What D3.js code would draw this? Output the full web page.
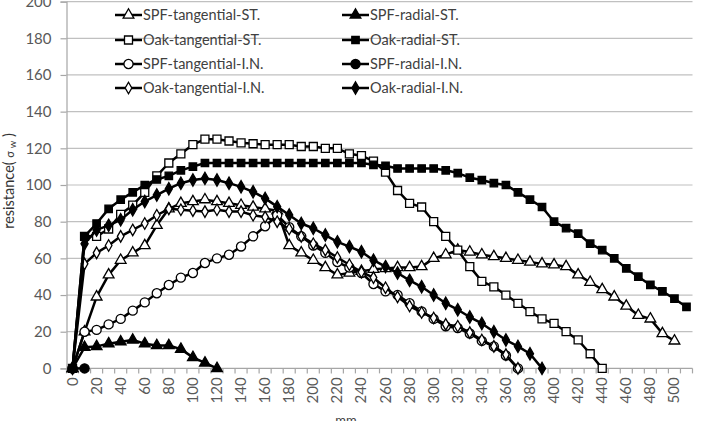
<!DOCTYPE html>
<html><head><meta charset="utf-8">
<script src="https://cdn.jsdelivr.net/npm/d3@7/dist/d3.min.js"></script>
<style>body{margin:0;background:#fff}svg{display:block}</style>
</head><body><svg id="c" width="702" height="421"></svg>
<script>
const categories = [0,10,20,30,40,50,60,70,80,90,100,110,120,130,140,150,160,170,180,190,200,210,220,230,240,250,260,270,280,290,300,310,320,330,340,350,360,370,380,390,400,410,420,430,440,450,460,470,480,490,500,510];
const xTickLabels = [0,20,40,60,80,100,120,140,160,180,200,220,240,260,280,300,320,340,360,380,400,420,440,460,480,500];
const yTicks = [0,20,40,60,80,100,120,140,160,180,200];
const seriesNames = ["SPF-tangential-ST.","SPF-radial-ST.","Oak-tangential-ST.","Oak-radial-ST.","SPF-tangential-I.N.","SPF-radial-I.N.","Oak-tangential-I.N.","Oak-radial-I.N."];
const N = null;
const spfTanST = [0,20,39,51,59,63,67,78,87,90,91,92,91,90,89,88,87,86,67,63,59,55,51,52,53,54,54.5,55,55,55.5,60,62,64.5,63.5,62,61,60,59,58,57,56.5,55.5,51,47,43,39,34,29,27,19,15,N];
const spfRadST = [0,11.5,12,13.5,14.5,15.5,13.5,12.5,12.5,10.5,6,3,0,N,N,N,N,N,N,N,N,N,N,N,N,N,N,N,N,N,N,N,N,N,N,N,N,N,N,N,N,N,N,N,N,N,N,N,N,N,N,N];
const oakTanST = [0,72,72,76,84,89,96,105,112,117,122,125,125,124,123,122.5,122,122,122,121,121,120,120,117,116,113,107,97,90,88,80,72,64.5,55.5,47.5,44.5,40,35.5,31,27,24.5,20,15.5,8,0,N,N,N,N,N,N,N];
const oakRadST = [0,72,79,87,92,96,100,103,105,108,110,112,112,112,112,112,112,112,112,112,112,112,112,112,112,111,110.5,109,109,109,109,108,106.5,104,102.7,101,100,96,92,88,80,76.5,73.5,68,64.5,60,54.5,50,45.5,42,38,33.5];
const spfTanIN = [0,20,21,24,27,31.5,36,41,45.5,49.5,52,57.5,60,62,66.5,72,77.5,83.5,77,72,67,63,58,55,52,46,42,40,35.5,31,27,23,22,19,15,12,7,0,N,N,N,N,N,N,N,N,N,N,N,N,N,N];
const spfRadIN = [0,0,N,N,N,N,N,N,N,N,N,N,N,N,N,N,N,N,N,N,N,N,N,N,N,N,N,N,N,N,N,N,N,N,N,N,N,N,N,N,N,N,N,N,N,N,N,N,N,N,N,N];
const oakTanIN = [0,57,63,67,72,75.5,79,83.5,87,86.5,86,85.5,86.5,85.5,85.5,83.5,82.5,80,76,72,68,64.5,60.5,56.5,52.5,49.5,44,39,34,30.5,27.5,24,23,19.5,15.5,12,7.5,0,N,N,N,N,N,N,N,N,N,N,N,N,N,N];
const oakRadIN = [0,68,75.5,78,81,86.5,91,94.5,98,101,102.7,103.6,102.7,101,99,96.3,92.7,88.2,83.6,79,76.4,72.7,69,66.4,63.6,59,55.5,52,48,44.5,40,35.5,32,28,24.5,20,15.5,12,8,0,N,N,N,N,N,N,N,N,N,N,N,N];

const seriesData = [spfTanST, spfRadST, oakTanST, oakRadST, spfTanIN, spfRadIN, oakTanIN, oakRadIN];
const markerStyle = [
  {sym:d3.symbolTriangle, size:50, fill:"#fff"},
  {sym:d3.symbolTriangle, size:50, fill:"#000"},
  {sym:d3.symbolSquare, size:64, fill:"#fff"},
  {sym:d3.symbolSquare, size:55, fill:"#000"},
  {sym:d3.symbolCircle, size:66, fill:"#fff"},
  {sym:d3.symbolCircle, size:66, fill:"#000"},
  {sym:d3.symbolDiamond, size:38, fill:"#fff"},
  {sym:d3.symbolDiamond, size:44, fill:"#000"}
];

const svg = d3.select("#c");
const x = d3.scalePoint().domain(categories).range([66.5, 692.5]).padding(0.5);
const step = x.step();
const y = d3.scaleLinear().domain([0,200]).range([368.4, 1.6]);
const FONT = "Lato, 'Liberation Sans', sans-serif";

// gridlines
svg.append("g").selectAll("line").data(yTicks.filter(d=>d>0)).join("line")
  .attr("x1",66.5).attr("x2",692.5).attr("y1",d=>y(d)).attr("y2",d=>y(d))
  .attr("stroke","#c0c0c0").attr("stroke-width",1.2);

// y axis
const yAxis = svg.append("g").attr("transform","translate(66.5,0)")
  .call(d3.axisLeft(y).tickValues(yTicks).tickSize(6).tickPadding(9));
yAxis.select(".domain").attr("stroke","#a6a6a6").attr("stroke-width",1.2);
yAxis.selectAll(".tick line").attr("stroke","#a6a6a6").attr("stroke-width",1.2);
yAxis.selectAll("text").attr("font-family",FONT).attr("font-size",15).attr("fill","#595959");

// x axis
const xg = svg.append("g");
xg.append("line").attr("x1",66.5).attr("x2",692.5).attr("y1",y(0)).attr("y2",y(0)).attr("stroke","#a6a6a6").attr("stroke-width",1.2);
xg.selectAll("line.t").data(categories.concat([520])).join("line").attr("class","t")
  .attr("x1",(d,i)=>66.5+i*step).attr("x2",(d,i)=>66.5+i*step)
  .attr("y1",y(0)).attr("y2",y(0)+5).attr("stroke","#a6a6a6").attr("stroke-width",1.2);
xg.selectAll("text").data(xTickLabels).join("text")
  .attr("transform",d=>`translate(${x(d)+5},${y(0)+9}) rotate(-90)`)
  .attr("text-anchor","end").attr("font-family",FONT).attr("font-size",15).attr("fill","#595959")
  .text(d=>d);

// axis titles
const yt = svg.append("text").attr("transform","translate(14,181) rotate(-90)")
  .attr("text-anchor","middle").attr("font-family",FONT).attr("font-size",14.5).attr("fill","#333");
yt.append("tspan").text("resistance( ");
yt.append("tspan").attr("font-size",11).text("σ ");
yt.append("tspan").attr("font-size",9.5).attr("dy",2).text("w");
yt.append("tspan").attr("dy",-2).text(" )");
svg.append("text").attr("x",346).attr("y",425).attr("text-anchor","middle")
  .attr("font-family",FONT).attr("font-size",13).attr("fill","#404040").text("mm");

// series
const line = d3.line().defined(d=>d.v!=null).x(d=>x(d.c)).y(d=>y(d.v));
seriesData.forEach((vals,si)=>{
  const pts = categories.map((c,i)=>({c, v: vals[i]}));
  const g = svg.append("g");
  g.append("path").attr("d",line(pts)).attr("fill","none").attr("stroke","#000").attr("stroke-width",2.5).attr("stroke-linejoin","round");
  const ms = markerStyle[si];
  g.selectAll("path.m").data(pts.filter(d=>d.v!=null)).join("path").attr("class","m")
    .attr("d",d3.symbol().type(ms.sym).size(ms.size))
    .attr("transform",d=>`translate(${x(d.c)},${y(d.v)})`)
    .attr("fill",ms.fill).attr("stroke","#000").attr("stroke-width",1.3);
});

// legend
const legX = [115, 342], legY = [15, 40, 64, 88];
seriesNames.forEach((name,i)=>{
  const col = i%2, row = Math.floor(i/2);
  const lx = legX[col], ly = legY[row];
  const g = svg.append("g");
  g.append("line").attr("x1",lx).attr("x2",lx+27).attr("y1",ly).attr("y2",ly).attr("stroke","#000").attr("stroke-width",2.5);
  const ms = markerStyle[i];
  g.append("path").attr("d",d3.symbol().type(ms.sym).size(ms.size)).attr("transform",`translate(${lx+13.5},${ly})`)
    .attr("fill",ms.fill).attr("stroke","#000").attr("stroke-width",1.3);
  g.append("text").attr("x",lx+28).attr("y",ly+5).attr("font-family",FONT).attr("font-size",14.5).attr("fill","#404040").text(name);
});
</script></body></html>
